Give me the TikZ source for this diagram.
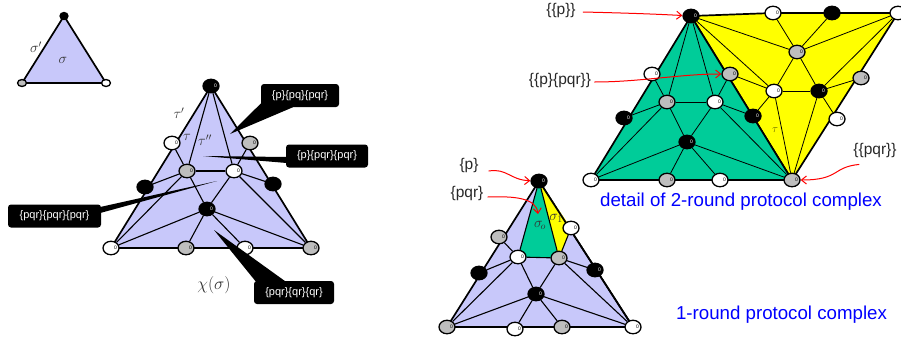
\documentclass[tikz,border=0pt]{standalone}
\usepackage{fontspec}
\setmainfont{Liberation Sans}
\usetikzlibrary{shapes.geometric,backgrounds,calc,arrows.meta}
\definecolor{lav}{RGB}{200,200,250}
\definecolor{grn}{RGB}{0,204,153}
\definecolor{ylw}{RGB}{255,255,0}
\definecolor{gry}{RGB}{190,190,190}
\definecolor{lbl}{RGB}{40,40,40}
\newcommand{\oo}{\makebox[0pt]{\hspace{9pt}\fontsize{5}{5}\selectfont 0}}
\tikzset{
  vtx/.style={ellipse,draw=black,line width=1.3pt,minimum width=16pt,minimum height=13.5pt,inner sep=0pt},
  vw/.style={vtx,fill=white,text=black},
  vg/.style={vtx,fill=gry,text=black},
  vb/.style={vtx,fill=black,text=white},
  tiny/.style={minimum width=8pt,minimum height=7pt},
  edge/.style={draw=black,line width=1.1pt},
  thinedge/.style={draw=black,line width=0.8pt},
  rim/.style={draw=black,line width=1.7pt,line join=round},
  call/.style={fill=black,text=white,rounded corners=3pt,font=\fontsize{11}{13}\selectfont,inner sep=0pt,minimum height=23pt},
  lab/.style={text=lbl,font=\fontsize{15.5}{18}\selectfont,inner sep=0pt},
  blu/.style={text=blue,font=\fontsize{18.7}{22}\selectfont,inner sep=0pt},
  mth/.style={text=black!80,inner sep=0pt,font=\fontsize{14}{16}\selectfont},
  redarr/.style={draw=red,line width=1pt,-{Straight Barb[length=5pt,width=8pt]}},
}
\begin{document}
\begin{tikzpicture}[x=1pt,y=-1pt]
\useasboundingbox (0,0) rectangle (901,338);
% small simplex
\node[vb,tiny] (s1) at (64,16) {};
\node[vg,tiny,minimum width=9pt] (s2) at (22,83) {};
\node[vw,tiny,minimum width=9pt] (s3) at (106,83) {};
\begin{pgfonlayer}{background}
\filldraw[lav,rim] (s1.center) -- (s2.center) -- (s3.center) -- cycle;
\end{pgfonlayer}
\node[mth] (t1) at (36,47) {$\sigma'$};
\node[mth] (t2) at (63,60) {$\sigma$};
% left complex
\node[vb] (a) at (211,86) {\oo};
\node[vw] (b) at (172,143) {\oo};
\node[vg] (c) at (250,143) {\oo};
\node[vg] (d) at (187,171) {\oo};
\node[vw] (e) at (234,171) {\oo};
\node[vb] (f) at (145,187) {};
\node[vb] (g) at (273,184) {};
\node[vb] (h) at (207,209) {\oo};
\node[vw] (i) at (111,248) {\oo};
\node[vg] (j) at (186,248) {\oo};
\node[vw] (k) at (245,248) {\oo};
\node[vg] (l) at (311,248) {\oo};
\begin{pgfonlayer}{background}
\filldraw[lav,rim] (a.center) -- (i.center) -- (l.center) -- cycle;
\end{pgfonlayer}
\foreach \p/\q in {a/d,a/e,b/d,c/e,d/e,d/f,e/g,d/h,e/h,h/i,h/j,h/k,h/l,i/d,l/e}
  \draw[edge] (\p) -- (\q);
\node[mth] (t3) at (179,113) {$\tau'$};
\node[mth] (t4) at (187,137) {$\tau$};
\node[mth] (t5) at (205,140) {$\tau''$};
\node[mth,font=\fontsize{18}{20}\selectfont] (t6) at (214,285) {$\chi(\sigma)$};
% callouts
\node[call,minimum width=78pt] (c1) at (300,95.5) {\{p\}\{pq\}\{pqr\}};
\coordinate (c1t) at (230,134);
\fill ([xshift=1pt,yshift=-7pt]c1.west) -- (c1t) -- ([xshift=-7pt]c1.south) -- cycle;
\node[call,minimum width=82pt] (c2) at (327,156) {\{p\}\{pqr\}\{pqr\}};
\coordinate (c2t) at (203,156);
\fill ([xshift=1pt,yshift=-1pt]c2.west) -- (c2t) -- ([xshift=1pt,yshift=-7pt]c2.west) -- cycle;
\node[call,minimum width=93pt] (c3) at (54.5,216) {\{pqr\}\{pqr\}\{pqr\}};
\coordinate (c3t) at (217,181);
\fill ([xshift=-1pt,yshift=9pt]c3.east) -- (c3t) -- ([xshift=-1pt,yshift=3pt]c3.east) -- cycle;
\node[call,minimum width=80pt] (c4) at (294,292.5) {\{pqr\}\{qr\}\{qr\}};
\coordinate (c4t) at (214,230);
\fill ([xshift=-38pt,yshift=-1pt]c4.north) -- (c4t) -- ([xshift=-8pt,yshift=-1pt]c4.north) -- cycle;
% right detail
\node[vb] (ra) at (691,16) {\oo};
\node[vw] (rb) at (773,13) {\oo};
\node[vb] (rc) at (832,13) {};
\node[vw] (rd) at (898,13) {};
\node[vg] (re) at (797,52) {\oo};
\node[vg] (rf) at (730,74) {\oo};
\node[vw] (rg) at (774,91) {\oo};
\node[vb] (rh) at (819,91) {\oo};
\node[vg] (ri) at (861,78) {\oo};
\node[vw] (rj) at (837,119) {\oo};
\node[vb] (rk) at (753,116) {\oo};
\node[vw] (rl) at (652,74) {\oo};
\node[vg] (rm) at (667,102) {\oo};
\node[vw] (rn) at (715,102) {\oo};
\node[vb] (ro) at (624,118) {\oo};
\node[vb] (rp) at (687,142) {\oo};
\node[vw] (rq) at (591,180) {\oo};
\node[vg] (rr) at (667,180) {\oo};
\node[vw] (rs) at (720,180) {\oo};
\node[vg] (rt) at (792,180) {\oo};
\begin{pgfonlayer}{background}
\filldraw[ylw,rim] (ra.center) -- (rb.center) -- (rd.center) -- (rt.center) -- cycle;
\filldraw[grn,rim] (ra.center) -- (rq.center) -- (rt.center) -- cycle;
\end{pgfonlayer}
\foreach \p/\q in {ra/re,rb/re,rc/re,rd/re,re/rg,re/rh,ra/rg,rf/rg,rg/rh,rg/rk,rg/rt,rh/ri,rh/rj,rh/rt,rd/rh,
  ra/rm,ra/rn,rl/rm,rf/rn,rm/rn,rm/ro,rn/rk,rm/rp,rn/rp,rp/rq,rp/rr,rp/rs,rp/rt,rq/rm,rt/rn}
  \draw[thinedge] (\p) -- (\q);
\node[mth,text=black!60!ylw,font=\fontsize{11}{13}\selectfont] (t7) at (775,130) {$\tau$};
% 1-round complex
\node[vb] (qa) at (539,181) {\oo};
\node[vw] (qb) at (571,228) {\oo};
\node[vg] (qc) at (499,237) {\oo};
\node[vw] (qd) at (518,257) {\oo};
\node[vg] (qe) at (559,258) {\oo};
\node[vb] (qf) at (479,273) {};
\node[vb] (qg) at (595,270) {\oo};
\node[vb] (qh) at (536,294) {\oo};
\node[vg] (qi) at (447,327) {\oo};
\node[vw] (qj) at (515,329) {\oo};
\node[vg] (qk) at (562,327) {\oo};
\node[vw] (ql) at (633,327) {\oo};
\begin{pgfonlayer}{background}
\filldraw[lav,rim] (qa.center) -- (qi.center) -- (ql.center) -- cycle;
\fill[grn] (qa.center) -- (qd.center) -- (qe.center) -- cycle;
\fill[ylw] (qa.center) -- (qe.center) -- (qb.center) -- cycle;
\draw[rim] (qa.center) -- (ql.center);
\end{pgfonlayer}
\foreach \p/\q in {qa/qd,qa/qe,qc/qd,qb/qe,qd/qe,qd/qf,qe/qg,qd/qh,qe/qh,qh/qi,qh/qj,qh/qk,qh/ql,qi/qd,ql/qe}
  \draw[edge] (\p) -- (\q);
\node[mth] (t8) at (540,225) {$\sigma_{\!o}$};
\node[mth] (t9) at (556,218) {$\sigma_1$};
% labels and arrows
\node[lab] (l1) at (561,10) {\{\{p\}\}};
\node[lab] (l2) at (560,80) {\{\{p\}\{pqr\}\}};
\node[lab] (l3) at (875,150) {\{\{pqr\}\}};
\node[lab] (l4) at (469,165) {\{p\}};
\node[lab] (l5) at (467,193) {\{pqr\}};
\draw[redarr] ([xshift=7pt,yshift=-2pt]l1.east) .. controls (625,13) and (655,14) .. (ra);
\draw[redarr] ([xshift=3pt,yshift=-2pt]l2.east) .. controls (640,82) and (680,74) .. (rf);
\draw[redarr] ([xshift=6pt,yshift=-7pt]l3.south west) .. controls (832,167) and (840,180) .. (rt);
\draw[redarr] ([xshift=10pt,yshift=-6pt]l4.east) .. controls (507,168) and (510,180) .. (qa);
\draw[redarr] ([xshift=4pt,yshift=-4pt]l5.east) .. controls (515,196) and (536,198) .. (538,214);
\node[blu] (b1) at (741,202) {detail of 2-round protocol complex};
\node[blu] (b2) at (781.5,315) {1-round protocol complex};
\end{tikzpicture}
\end{document}
